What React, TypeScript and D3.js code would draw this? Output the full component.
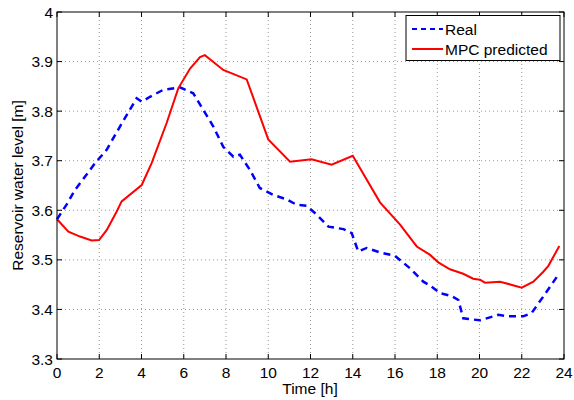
import React from 'react';
import * as d3 from 'd3';

// Reservoir level: measured vs MPC prediction

const realTime = [0, 0.46, 0.85, 1.33, 1.8, 2.35, 2.98, 3.77, 4.01, 4.4, 5.03, 5.82, 6.45, 6.93, 7.4, 7.87, 8.35, 8.66, 9.14, 9.6, 10.24, 10.87, 11.35, 11.82, 12.3, 12.85, 13.56, 13.95, 14.26, 14.66, 15.29, 16.0, 16.71, 17.34, 17.66, 18.13, 18.68, 19.0, 19.23, 20.02, 20.89, 21.36, 22.07, 22.47, 23.02, 23.78];
const realLevel = [3.582, 3.612, 3.641, 3.668, 3.695, 3.722, 3.769, 3.826, 3.819, 3.829, 3.843, 3.848, 3.836, 3.802, 3.769, 3.728, 3.708, 3.712, 3.681, 3.645, 3.631, 3.622, 3.611, 3.609, 3.591, 3.567, 3.562, 3.554, 3.517, 3.524, 3.515, 3.508, 3.483, 3.456, 3.448, 3.433, 3.427, 3.419, 3.382, 3.378, 3.389, 3.386, 3.386, 3.393, 3.426, 3.473];

const mpcTime = [0, 0.54, 1.09, 1.64, 1.99, 2.35, 2.82, 3.06, 4.01, 4.48, 5.19, 5.74, 6.3, 6.77, 7.0, 7.87, 8.98, 10.0, 11.03, 12.05, 13.0, 14.0, 15.29, 16.24, 17.03, 17.66, 18.05, 18.6, 19.23, 19.7, 20.02, 20.26, 20.97, 22.0, 22.55, 23.02, 23.26, 23.78];
const mpcLevel = [3.582, 3.557, 3.547, 3.539, 3.54, 3.56, 3.597, 3.618, 3.651, 3.695, 3.776, 3.846, 3.886, 3.909, 3.913, 3.883, 3.864, 3.743, 3.698, 3.703, 3.692, 3.71, 3.616, 3.571, 3.527, 3.51, 3.495, 3.481, 3.472, 3.462, 3.46, 3.454, 3.456, 3.444, 3.456, 3.476, 3.488, 3.528];

const xTicks = [0, 2, 4, 6, 8, 10, 12, 14, 16, 18, 20, 22, 24];
const yTicks = [3.3, 3.4, 3.5, 3.6, 3.7, 3.8, 3.9, 4];

export default function App() {
  const left = 57, right = 564, top = 12, bottom = 359;
  const x = d3.scaleLinear().domain([0, 24]).range([left, right]);
  const y = d3.scaleLinear().domain([3.3, 4]).range([bottom, top]);

  const line = d3.line<[number, number]>().x(d => x(d[0])).y(d => y(d[1]));
  const realPath = line(realTime.map((t, i) => [t, realLevel[i]]));
  const mpcPath = line(mpcTime.map((t, i) => [t, mpcLevel[i]]));

  const font = 'Liberation Sans, Arial, sans-serif';
  const fs = 15.5;

  return (
    <svg width={574} height={400} style={{ position: 'absolute', left: 0, top: 0 }} fontFamily={font}>
      <rect x={0} y={0} width={574} height={400} fill="white" />
      {/* grid */}
      {xTicks.slice(1, -1).map(t => (
        <line key={'gx' + t} x1={x(t)} x2={x(t)} y1={top} y2={bottom} stroke="#999" strokeWidth={1} strokeDasharray="1,3" />
      ))}
      {yTicks.slice(1, -1).map(t => (
        <line key={'gy' + t} x1={left} x2={right} y1={y(t)} y2={y(t)} stroke="#999" strokeWidth={1} strokeDasharray="1,3" />
      ))}
      {/* ticks inward */}
      {xTicks.map(t => (
        <g key={'tx' + t}>
          <line x1={x(t)} x2={x(t)} y1={bottom} y2={bottom - 5} stroke="black" />
          <line x1={x(t)} x2={x(t)} y1={top} y2={top + 5} stroke="black" />
          <text x={x(t)} y={bottom + 18.5} textAnchor="middle" fontSize={fs}>{t}</text>
        </g>
      ))}
      {yTicks.map(t => (
        <g key={'ty' + t}>
          <line x1={left} x2={left + 5} y1={y(t)} y2={y(t)} stroke="black" />
          <line x1={right} x2={right - 5} y1={y(t)} y2={y(t)} stroke="black" />
          <text x={left - 4} y={y(t) + 5.5} textAnchor="end" fontSize={fs}>{d3.format('.1f')(t).replace(/\.0$/, '')}</text>
        </g>
      ))}
      <path d={realPath || ''} fill="none" stroke="#0000ff" strokeWidth={2.5} strokeDasharray="7,5" />
      <path d={mpcPath || ''} fill="none" stroke="#ff0000" strokeWidth={2} />
      <rect x={left} y={top} width={right - left} height={bottom - top} fill="none" stroke="black" strokeWidth={1} />
      {/* legend */}
      <g>
        <rect x={406} y={15.5} width={154} height={45} fill="white" stroke="black" strokeWidth={1} />
        <line x1={412} x2={443} y1={29} y2={29} stroke="#0000ff" strokeWidth={2} strokeDasharray="5,4" />
        <text x={445} y={35} fontSize={fs}>Real</text>
        <line x1={412} x2={443} y1={49} y2={49} stroke="#ff0000" strokeWidth={2} />
        <text x={445} y={55} fontSize={fs}>MPC predicted</text>
      </g>
      <text x={310} y={394} textAnchor="middle" fontSize={fs}>Time [h]</text>
      <text transform={`translate(23, ${(top + bottom) / 2}) rotate(-90)`} textAnchor="middle" fontSize={fs}>Reservoir water level [m]</text>
    </svg>
  );
}
